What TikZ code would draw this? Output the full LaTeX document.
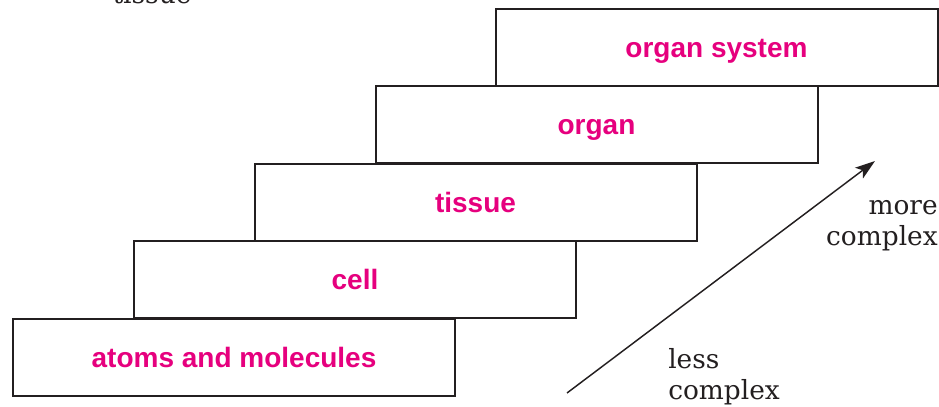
\documentclass[tikz,border=0pt]{standalone}
\usepackage{fontspec}
\usetikzlibrary{positioning,arrows.meta}
\newfontfamily\levelfont{Liberation Sans}
\newfontfamily\sidefont{DejaVu Serif}
\definecolor{levelpink}{HTML}{E6007E}
\definecolor{ink}{HTML}{231F20}

\begin{document}
\begin{tikzpicture}[x=0.75pt, y=-0.75pt,
    level/.style={draw=ink, line width=1.5pt, fill=white, inner sep=0pt,
      minimum width=331.5pt, minimum height=57.75pt, text=levelpink,
      text height=15pt, text depth=0pt,
      font=\levelfont\bfseries\fontsize{21}{25}\selectfont},
    side/.style={text=ink, inner sep=0pt, font=\sidefont\fontsize{19.8}{23}\selectfont}]
    \useasboundingbox (0,0) rectangle (939,407);
    \clip (0,0) rectangle (939,407);
    % what is left of a caption above
    \node[side, anchor=base] (cut) at (152,3) {tissue};
    % the steps, from the lowest up
    \node[level] (atoms)  at (234,357.5)   {atoms and molecules};
    \node[level] (cell)   at (355,279.8)   {cell};
    \node[level] (tissue) at (475.5,202.2) {tissue};
    \node[level] (organ)  at (596.5,124.6) {organ};
    \node[level] (system) at (716.5,47.2)  {organ system};
    % direction of complexity
    \coordinate (low)  at (567,393);
    \coordinate (high) at (875,161);
    \draw[ink, line width=1.1pt, -{Stealth[length=15pt, width=10pt, inset=3.5pt]}] (low) -- (high);
    \node[side, align=right, anchor=east] (more) at (938,225.5) {more\\complex};
    \node[side, align=left, anchor=west]  (less) at (668,377)   {less\\complex};
  \end{tikzpicture}
\end{document}
